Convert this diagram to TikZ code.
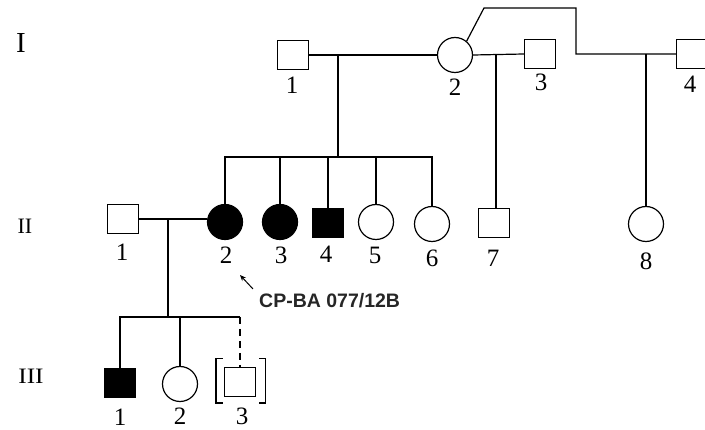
\documentclass[tikz,border=0pt]{standalone}
\usepackage{fontspec}
\setmainfont{Liberation Serif}
\newfontfamily\cpsans{Liberation Sans}
\usetikzlibrary{arrows.meta,calc}
\begin{document}
\begin{tikzpicture}[x=1pt,y=-1pt,
  lw/.style={line width=1.2pt},
  male/.style={draw,rectangle,minimum width=31pt,minimum height=29pt,inner sep=0pt,lw},
  female/.style={draw,circle,minimum size=35pt,inner sep=0pt,lw},
  aff/.style={fill=black},
  num/.style={font=\fontsize{25}{25}\selectfont,inner sep=0pt},
  gen/.style={font=\fontsize{22}{22}\selectfont,inner sep=0pt},
  conn/.style={lw}]
\useasboundingbox (0,0) rectangle (705,430);
\clip (0,0) rectangle (705,430);
% generation labels
\node[font=\fontsize{29}{29}\selectfont,inner sep=0pt] (gI) at (21,43) {I};
\node[gen] (gII) at (25,226) {II};
\node[gen,xscale=1.15] (gIII) at (31,376) {III};
% generation I
\node[male] (I1) at (293,55) {};
\node[female] (I2) at (455,55) {};
\node[male] (I3) at (540,54) {};
\node[male] (I4) at (692,54) {};
\node[num] (lI1) at (292,85) {1};
\node[num] (lI2) at (455,87) {2};
\node[num] (lI3) at (541,82) {3};
\node[num] (lI4) at (690,84) {4};
% generation II
\node[male] (II1) at (123,219) {};
\node[female,aff] (II2) at (225,222) {};
\node[female,aff] (II3) at (280,222) {};
\node[male,aff] (II4) at (328,223) {};
\node[female] (II5) at (376,222) {};
\node[female] (II6) at (432,224) {};
\node[male] (II7) at (494,223) {};
\node[female] (II8) at (646,224) {};
\node[num] (lII1) at (122,252) {1};
\node[num] (lII2) at (226,255) {2};
\node[num] (lII3) at (281,255) {3};
\node[num] (lII4) at (326,254) {4};
\node[num] (lII5) at (375,255) {5};
\node[num] (lII6) at (432,258) {6};
\node[num] (lII7) at (493,258) {7};
\node[num] (lII8) at (646,261) {8};
% generation III
\node[male,aff] (III1) at (120,383) {};
\node[female] (III2) at (180,384) {};
\node[male] (III3) at (240,382) {};
\node[num] (lIII1) at (120,417) {1};
\node[num] (lIII2) at (180,416) {2};
\node[num] (lIII3) at (242,416) {3};
% coordinates
\coordinate (m1) at (338,55);
\coordinate (s1) at (338,157);
\coordinate (m2) at (496,55);
\coordinate (r1) at (484,8);
\coordinate (r2) at (576,8);
\coordinate (r3) at (576,54);
\coordinate (m3) at (646,54);
\coordinate (m4) at (168,219);
\coordinate (s3) at (168,317);
% connectors gen I
\draw[conn] (I1.east) -- (I2.west);
\draw[conn] (m1) -- (s1);
\draw[conn] (I2.east) -- (I3.west);
\draw[conn] (m2) -- (m2 |- II7.north);
\draw[conn] (I2.50) -- (r1) -- (r2) -- (r3) -- (I4.west);
\draw[conn] (m3) -- (II8.north);
% sibship II
\draw[conn] (II2.north) -- (II2.north |- s1) -- (II6.north |- s1) -- (II6.north);
\draw[conn] (II3.north) -- (II3.north |- s1);
\draw[conn] (II4.north) -- (II4.north |- s1);
\draw[conn] (II5.north) -- (II5.north |- s1);
% marriage II
\draw[conn] (II1.east) -- (II1.east -| II2.west);
\draw[conn] (m4) -- (s3);
\draw[conn] (III1.north) -- (III1.north |- s3) -- (III3.north |- s3);
\draw[conn] (III2.north) -- (III2.north |- s3);
\draw[conn,dash pattern=on 7pt off 5pt] (III3.north |- s3) -- (III3.north);
% brackets
\draw[lw] ($(III3.north west)+(-1,-8)$) -- ($(III3.north west)+(-8,-8)$) -- ($(III3.south west)+(-8,6)$) -- ($(III3.south west)+(-1,6)$);
\draw[lw] ($(III3.north east)+(3,-8)$) -- ($(III3.north east)+(9,-8)$) -- ($(III3.south east)+(9,6)$) -- ($(III3.south east)+(3,6)$);
% proband annotation
\node[anchor=base west,inner sep=0pt,font=\cpsans\bfseries\fontsize{19.5}{19.5}\selectfont,text=black!85] (cp) at (259,308) {CP-BA 077/12B};
\coordinate (a1) at (253,289);
\coordinate (a2) at (240,275);
\draw[line width=1pt,-{Stealth[length=6pt,width=5pt]}] (a1) -- (a2);
\end{tikzpicture}
\end{document}
